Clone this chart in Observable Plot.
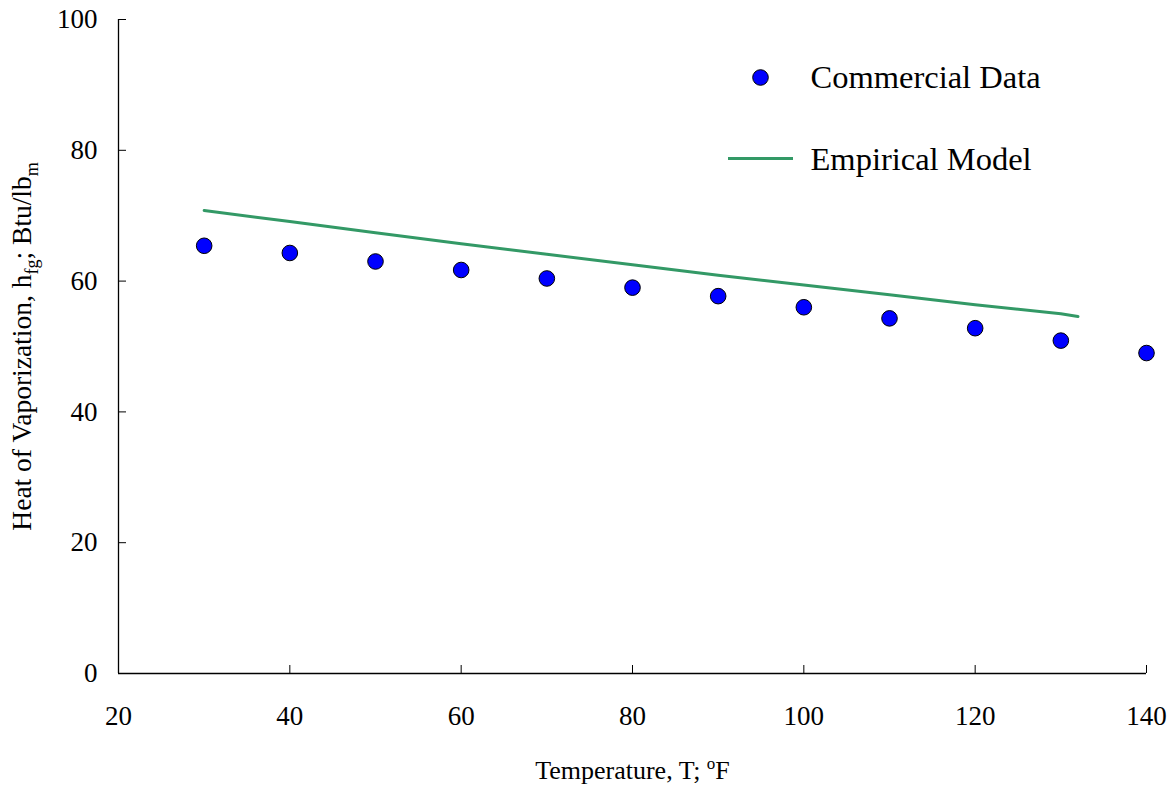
<!DOCTYPE html>
<html>
<head>
<meta charset="utf-8">
<script src="https://cdn.jsdelivr.net/npm/d3@7"></script>
<script src="https://cdn.jsdelivr.net/npm/@observablehq/plot@0.6"></script>
<style>
  html, body { margin: 0; padding: 0; background: #fff; }
  #chart svg text { white-space: pre; }
</style>
</head>
<body>
<div id="chart"></div>
<script>
// Commercial data (points)
const dataTemp = [30, 40, 50, 60, 70, 80, 90, 100, 110, 120, 130, 140];
const dataHfg  = [65.4, 64.3, 63.0, 61.7, 60.4, 59.0, 57.7, 56.0, 54.3, 52.8, 50.9, 49.0];
// Empirical model (line)
const modelTemp = [30, 40, 50, 60, 70, 80, 90, 100, 110, 120, 130, 132];
const modelHfg  = [70.8, 69.1, 67.4, 65.7, 64.1, 62.5, 60.9, 59.4, 57.9, 56.4, 55.0, 54.6];
// Axis ticks
const xTicks = [20, 40, 60, 80, 100, 120, 140];
const yTicks = [0, 20, 40, 60, 80, 100];
const xDomain = [20, 140];
const yDomain = [0, 100];
// Labels
const legendLabels = ["Commercial Data", "Empirical Model"];
const xTitle = "Temperature, T; °F";
const yTitle = "Heat of Vaporization, hfg; Btu/lbm";

const points = dataTemp.map((t, i) => ({t, h: dataHfg[i]}));
const model = modelTemp.map((t, i) => ({t, h: modelHfg[i]}));

const blue = "#0000ff";
const green = "#339966";

const lineSymbol = {
  draw(context) {
    context.moveTo(-32.5, 0);
    context.lineTo(32.5, 0);
  }
};

const plot = Plot.plot({
  width: 1174,
  height: 787,
  marginLeft: 118,
  marginRight: 28,
  marginTop: 19,
  marginBottom: 114,
  style: {
    fontFamily: "'Liberation Serif', 'Times New Roman', serif",
    fontSize: "26px",
    color: "#000",
    background: "#fff"
  },
  x: {domain: xDomain},
  y: {domain: yDomain},
  marks: [
    Plot.ruleX([xDomain[0]], {stroke: "#000", strokeWidth: 1.3}),
    Plot.ruleY([yDomain[0]], {stroke: "#000", strokeWidth: 1.3}),
    Plot.axisY(yTicks, {tickSize: -8, tickPadding: 29, label: null, stroke: "#000", fill: "#000", fontSize: 27}),
    Plot.axisX(xTicks, {tickSize: -8, tickPadding: 40, label: null, stroke: "#000", fill: "#000", fontSize: 27}),
    Plot.line(model, {x: "t", y: "h", stroke: green, strokeWidth: 3}),
    Plot.dot(points, {x: "t", y: "h", r: 7.8, fill: blue, stroke: "#000", strokeWidth: 1}),
    // legend
    Plot.dot([legendLabels[0]], {frameAnchor: "top-right", dx: -386, dy: 58, r: 7.8, fill: blue, stroke: "#000", strokeWidth: 1}),
    Plot.dot([legendLabels[1]], {frameAnchor: "top-right", dx: -386, dy: 139, symbol: lineSymbol, stroke: green, strokeWidth: 3, fill: "none"}),
    Plot.text([legendLabels[0]], {text: d => d, frameAnchor: "top-right", textAnchor: "start", lineAnchor: "middle",
      dx: -336, dy: 58, fontSize: 32.5, fill: "#000"}),
    Plot.text([legendLabels[1]], {text: d => d, frameAnchor: "top-right", textAnchor: "start", lineAnchor: "middle",
      dx: -336, dy: 140, fontSize: 32.5, fill: "#000"}),
    // axis titles
    Plot.text([xTitle], {text: d => d, frameAnchor: "bottom", textAnchor: "middle", lineAnchor: "middle", dy: 97, fontSize: 26, fill: "#000", className: "xtitle"}),
    Plot.text([yTitle], {text: d => d, frameAnchor: "left", textAnchor: "middle", lineAnchor: "middle", rotate: -90, dx: -96, fontSize: 27.5, fill: "#000", className: "ytitle"})
  ]
});

document.getElementById("chart").appendChild(plot);

const svg = d3.select(plot);

// Superscript in x title
const xt = svg.select("g.xtitle text");
xt.text(null);
xt.append("tspan").text("Temperature, T; ");
xt.append("tspan").attr("dy", -10).attr("font-size", 17).text("o");
xt.append("tspan").attr("dy", 10).text("F");

// Subscripts in y title
const yt = svg.select("g.ytitle text");
yt.text(null);
yt.append("tspan").text("Heat of Vaporization, h");
yt.append("tspan").attr("dy", 7).attr("font-size", 18).text("fg");
yt.append("tspan").attr("dy", -7).text("; Btu/lb");
yt.append("tspan").attr("dy", 7).attr("font-size", 18).text("m");
</script>
</body>
</html>
